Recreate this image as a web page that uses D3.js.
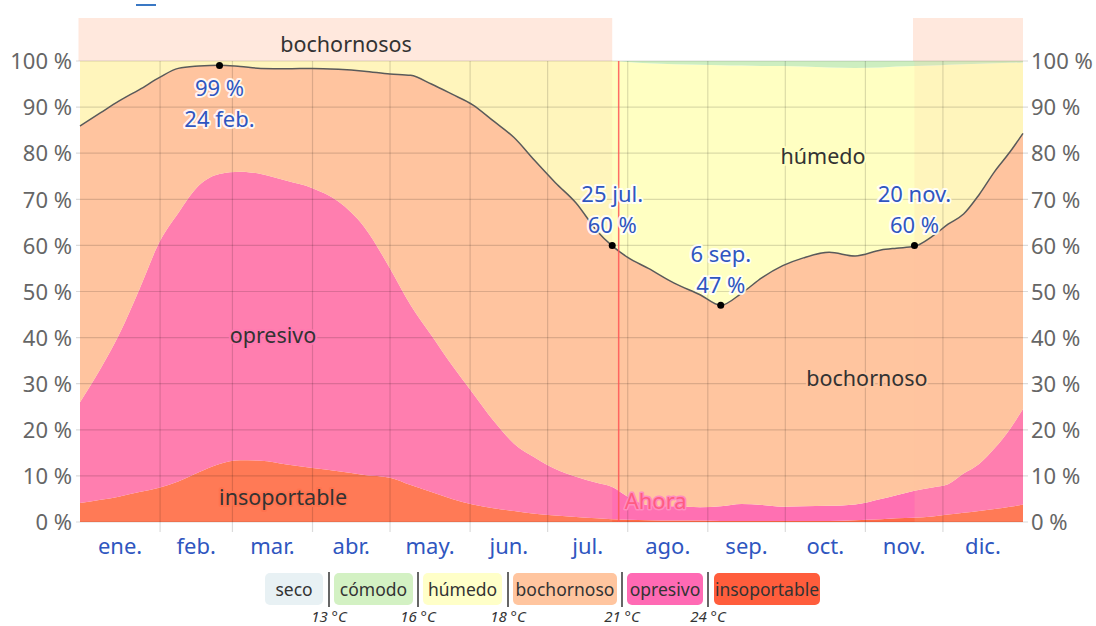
<!DOCTYPE html>
<html><head><meta charset="utf-8">
<script src="https://cdn.jsdelivr.net/npm/d3@7"></script>
<style>
html,body{margin:0;padding:0;background:#fff;}
svg{display:block;font-family:"Noto Sans","Open Sans",sans-serif;}
</style></head>
<body><svg id="c" width="1096" height="626"></svg>
<script>
// ---- data (day of year, percent of time in each comfort level) ----
const days = [0,8,15,23,31,38,46,54,62,70,80,90,100,110,120,128,136,144,152,160,168,176,184,192,200,206,212,220,230,240,248,256,264,272,280,290,300,310,316,323,330,336,342,348,354,360,365];
const insoportable = [4.1,4.8,5.5,6.5,7.5,8.8,10.8,12.6,13.4,13.3,12.5,11.7,11,10.2,9.6,8,6.5,5,3.8,3,2.4,1.8,1.4,1.1,0.8,0.6,0.5,0.4,0.3,0.3,0.2,0.2,0.2,0.2,0.2,0.2,0.4,0.6,0.8,0.9,1.2,1.6,2,2.4,2.8,3.3,3.8];
const opresivo = [21.9,28.5,35,44,53.5,58.2,62.2,62.9,62.6,62.2,61.5,60.7,58.5,53.8,45.4,39,34,29,24.2,19,14.6,12.2,10.1,8.7,7.7,7,5,3.3,3.1,2.9,3.2,3.7,3.5,3.1,3.2,3.3,3.4,4.4,5,5.9,6.3,6.6,8.5,10.2,13.2,16.9,20.7];
const bochornoso = [59.9,55.5,50.8,43.3,35.5,31.4,25.9,23.6,22.8,22.9,24.3,26,28.7,33.8,42.2,49.9,54.5,58.8,62.5,65,66.4,64.4,62.1,59.4,54.7,52.3,51.9,51.3,48.4,46.1,43.6,45.7,49.3,52.3,53.9,55,53.9,54,53.6,53,54.5,56.4,56.3,58.4,60,60.1,59.8];
const humedo = [14.1,11.2,8.7,6.2,3.5,1.6,1.1,0.9,1.2,1.6,1.7,1.6,1.8,2.2,2.8,3.1,5,7.2,9.5,13,16.6,21.6,26.4,30.8,36.8,40.1,42.4,44.5,47.5,49.9,52.1,49.4,45.9,43.3,41.5,40.1,40.8,39.6,39.4,39.1,37,34.6,32.5,28.4,23.5,19.3,15.4];
const comodo = [0,0,0,0,0,0,0,0,0,0,0,0,0,0,0,0,0,0,0,0,0,0,0,0,0,0,0.2,0.5,0.7,0.8,0.9,1,1.1,1.1,1.2,1.4,1.5,1.4,1.2,1.1,1,0.8,0.7,0.6,0.5,0.4,0.3];

const monthLabels = ["ene.","feb.","mar.","abr.","may.","jun.","jul.","ago.","sep.","oct.","nov.","dic."];
const monthStarts = [0,31,59,90,120,151,181,212,243,273,304,334,365];
const yTicks = [0,10,20,30,40,50,60,70,80,90,100];
const legendLabels = ["seco","cómodo","húmedo","bochornoso","opresivo","insoportable"];
const thresholdLabels = ["13 °C","16 °C","18 °C","21 °C","24 °C"];
const seasonRanges = [[0,206],[323,365]];
const seasonLabel = "bochornosos";
const nowDay = 208.5;
const annotations = [
  {day:54, value:99, lines:["99 %","24 feb."], below:true},
  {day:206, value:60, lines:["25 jul.","60 %"], below:false},
  {day:248, value:47, lines:["6 sep.","47 %"], below:false},
  {day:323, value:60, lines:["20 nov.","60 %"], below:false}
];

// ---- styles ----
const fills = {insoportable:"#ff6b47", opresivo:"#ff70b2", bochornoso:"#ffc59f", humedo:"#ffffc2", comodo:"#cdeec0", seco:"#e8f0f3"};
const legendFills = ["#e8f1f4","#d3f1c3","#ffffc8","#ffc59f","#ff6ab4","#ff5d3c"];
const keys = ["insoportable","opresivo","bochornoso","humedo","comodo"];

const svg = d3.select("#c");
const x = d3.scaleLinear().domain([0,365]).range([80,1023]);
const y = d3.scaleLinear().domain([0,100]).range([522,61]);

const rows = days.map((d,i)=>({day:d, insoportable:insoportable[i], opresivo:opresivo[i], bochornoso:bochornoso[i], humedo:humedo[i], comodo:comodo[i]}));
const series = d3.stack().keys(keys)(rows);
const area = d3.area().x(d=>x(d.data.day)).y0(d=>y(d[0])).y1(d=>y(d[1])).curve(d3.curveMonotoneX);

// clipped legend line at top
svg.append("line").attr("x1",136).attr("x2",156).attr("y1",5).attr("y2",5).attr("stroke","#3a78c4").attr("stroke-width",2);

// season band at top
svg.selectAll(".band").data(seasonRanges).join("rect")
  .attr("x",d=>x(d[0])-1.5).attr("width",d=>x(d[1])-x(d[0])+1.5)
  .attr("y",18).attr("height",y(100)-18).attr("fill","#ffe8dd");

// areas
svg.append("g").selectAll("path").data(series).join("path")
  .attr("d",area).attr("fill",d=>fills[d.key]);

// season overlay in plot
svg.selectAll(".ov").data(seasonRanges).join("rect")
  .attr("x",d=>x(d[0])).attr("width",d=>x(d[1])-x(d[0]))
  .attr("y",y(100)).attr("height",y(0)-y(100)).attr("fill","#ffc59f").attr("opacity",0.17);

// grid
const grid = svg.append("g").attr("stroke","#000").attr("stroke-opacity",0.14).attr("stroke-width",1.2);
grid.selectAll(".h").data(yTicks).join("line")
  .attr("x1",76).attr("x2",1028).attr("y1",d=>y(d)).attr("y2",d=>y(d));
grid.selectAll(".v").data(monthStarts.slice(1,12)).join("line")
  .attr("x1",d=>x(d)).attr("x2",d=>x(d)).attr("y1",y(100)).attr("y2",532);

// y axes
const fmt = d => d + " %";
const axL = svg.append("g").attr("transform","translate(80,0)").call(d3.axisLeft(y).tickValues(yTicks).tickFormat(fmt).tickSize(0).tickPadding(8));
const axR = svg.append("g").attr("transform","translate(1023,0)").call(d3.axisRight(y).tickValues(yTicks).tickFormat(fmt).tickSize(0).tickPadding(8));
[axL,axR].forEach(a=>{a.select(".domain").remove(); a.selectAll("text").attr("font-size",22).attr("fill","#666").attr("font-family","Noto Sans, sans-serif").attr("dy","0.35em");});

// x axis month labels
const mid = monthLabels.map((m,i)=>({m, c:(monthStarts[i]+monthStarts[i+1])/2}));
svg.append("g").selectAll("text").data(mid).join("text")
  .attr("x",d=>x(d.c)).attr("y",554).attr("text-anchor","middle")
  .attr("font-size",22).attr("fill","#2f56c0").text(d=>d.m);

// boundary line (top of bochornoso)
const bSeries = series[2];
svg.append("path").datum(bSeries)
  .attr("d",d3.line().x(d=>x(d.data.day)).y(d=>y(d[1])).curve(d3.curveMonotoneX))
  .attr("fill","none").attr("stroke","#5a5a5a").attr("stroke-width",1.5);

// now line
svg.append("line").attr("x1",x(nowDay)).attr("x2",x(nowDay)).attr("y1",y(100)).attr("y2",y(0))
  .attr("stroke","#ff5555").attr("stroke-width",1.5).attr("opacity",0.85);
svg.append("text").attr("x",x(nowDay)+6).attr("y",509).attr("font-size",22)
  .attr("fill","#ff5c82").attr("stroke","#ff8cc0").attr("stroke-width",3).attr("paint-order","stroke")
  .attr("stroke-linejoin","round").text("Ahora");

// region labels
const regionLabels = [
  {t:seasonLabel, day:103, yy:52, halo:"#ffe8dd"},
  {t:"húmedo", day:287.6, yy:164, halo:"#ffffc2"},
  {t:"bochornoso", day:304.6, yy:386, halo:"#ffc59f"},
  {t:"opresivo", day:74.7, yy:343, halo:"#ff79b0"},
  {t:"insoportable", day:78.6, yy:505, halo:"#ff734f"}
];
svg.append("g").selectAll("text").data(regionLabels).join("text")
  .attr("x",d=>x(d.day)).attr("y",d=>d.yy).attr("text-anchor","middle")
  .attr("font-size",21.5).attr("fill","#333")
  .attr("stroke",d=>d.halo).attr("stroke-width",4).attr("paint-order","stroke").attr("stroke-linejoin","round")
  .text(d=>d.t);

// annotation dots and labels
svg.append("g").selectAll("circle").data(annotations).join("circle")
  .attr("cx",d=>x(d.day)).attr("cy",d=>y(d.value)).attr("r",3.5).attr("fill","#000");
annotations.forEach(a=>{
  const base = a.below ? y(a.value)+30 : y(a.value)-43;
  a.lines.forEach((ln,i)=>{
    svg.append("text").attr("x",x(a.day)).attr("y",base+i*31).attr("text-anchor","middle")
      .attr("font-size",22).attr("fill","#2f56c0")
      .attr("stroke","#fff").attr("stroke-opacity",0.85).attr("stroke-width",4).attr("paint-order","stroke").attr("stroke-linejoin","round")
      .text(ln);
  });
});

// legend
const legendBoxes = [[265,323],[334,413],[423,502],[513,617],[627,703],[714,820]];
const lg = svg.append("g");
legendLabels.forEach((l,i)=>{
  const [a,b] = legendBoxes[i];
  lg.append("rect").attr("x",a).attr("y",573).attr("width",b-a).attr("height",32).attr("rx",5).attr("fill",legendFills[i]);
  lg.append("text").attr("x",(a+b)/2).attr("y",596).attr("text-anchor","middle").attr("font-size",17.5).attr("fill","#333").text(l);
});
const sepX = [329,418,508,622,708];
thresholdLabels.forEach((t,i)=>{
  lg.append("line").attr("x1",sepX[i]).attr("x2",sepX[i]).attr("y1",572).attr("y2",607).attr("stroke","#666").attr("stroke-width",2);
  lg.append("text").attr("x",sepX[i]).attr("y",622).attr("text-anchor","middle").attr("font-size",15).attr("font-style","italic").attr("fill","#333").text(t);
});
</script>
</body></html>
